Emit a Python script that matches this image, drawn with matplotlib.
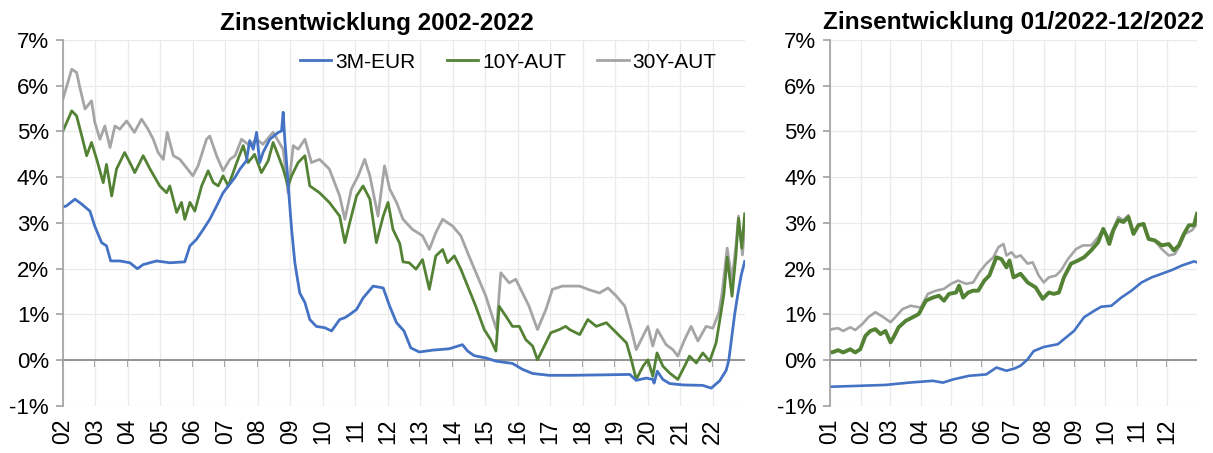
import matplotlib
matplotlib.use('Agg')
import matplotlib.pyplot as plt
import matplotlib.dates as mdates
import pandas as pd

plt.rcParams['font.family'] = ['Liberation Sans', 'DejaVu Sans']

# ---- 2002-2022, Zeit als Dezimaljahr ----
t_3m = [2002.0, 2002.1, 2002.37, 2002.58, 2002.83, 2002.98, 2003.19, 2003.34, 2003.47, 2003.75,
        2004.06, 2004.29, 2004.47, 2004.88, 2005.29, 2005.75, 2005.91, 2006.11, 2006.32, 2006.52,
        2006.73, 2006.93, 2007.29, 2007.45, 2007.65, 2007.75, 2007.86, 2007.96, 2008.06, 2008.16,
        2008.37, 2008.63, 2008.73, 2008.78, 2008.83, 2008.9, 2008.96, 2009.04, 2009.14, 2009.29,
        2009.45, 2009.6, 2009.8, 2010.06, 2010.27, 2010.52, 2010.68, 2010.83, 2011.04, 2011.24,
        2011.55, 2011.86, 2012.06, 2012.27, 2012.5, 2012.71, 2012.97, 2013.38, 2013.89, 2014.3,
        2014.46, 2014.66, 2015.02, 2015.33, 2015.84, 2016.15, 2016.46, 2016.97, 2017.6, 2018.63,
        2019.45, 2019.65, 2019.96, 2020.16, 2020.2, 2020.3, 2020.47, 2020.68, 2021.09, 2021.7,
        2021.96, 2022.22, 2022.42, 2022.5, 2022.6, 2022.68, 2022.78, 2022.88, 2022.99]
r_3m = [3.35, 3.37, 3.52, 3.41, 3.26, 2.93, 2.57, 2.5, 2.17, 2.17,
        2.13, 2.0, 2.09, 2.17, 2.13, 2.15, 2.5, 2.64, 2.86, 3.08,
        3.37, 3.66, 3.99, 4.18, 4.36, 4.8, 4.61, 4.98, 4.32, 4.54,
        4.83, 4.98, 5.01, 5.42, 4.83, 4.18, 3.59, 2.86, 2.13, 1.47,
        1.26, 0.89, 0.74, 0.71, 0.64, 0.89, 0.93, 1.0, 1.11, 1.36,
        1.62, 1.58, 1.18, 0.82, 0.64, 0.27, 0.18, 0.22, 0.25, 0.34,
        0.2, 0.1, 0.05, -0.02, -0.07, -0.2, -0.29, -0.33, -0.33, -0.32,
        -0.31, -0.44, -0.39, -0.42, -0.5, -0.24, -0.42, -0.51, -0.54, -0.55,
        -0.61, -0.45, -0.22, 0.0, 0.55, 1.0, 1.45, 1.85, 2.16]

t_10y = [2002.0, 2002.27, 2002.42, 2002.58, 2002.73, 2002.88, 2003.04, 2003.24, 2003.34, 2003.5,
         2003.65, 2003.9, 2004.11, 2004.21, 2004.47, 2004.68, 2004.98, 2005.19, 2005.29, 2005.5,
         2005.65, 2005.75, 2005.91, 2006.06, 2006.27, 2006.47, 2006.63, 2006.78, 2006.93, 2007.09,
         2007.24, 2007.35, 2007.55, 2007.7, 2007.9, 2008.11, 2008.32, 2008.47, 2008.63, 2008.78,
         2008.93, 2009.04, 2009.24, 2009.45, 2009.6, 2009.9, 2010.2, 2010.52, 2010.68, 2010.83,
         2011.04, 2011.24, 2011.45, 2011.65, 2011.86, 2012.01, 2012.16, 2012.37, 2012.47, 2012.66,
         2012.87, 2013.07, 2013.28, 2013.48, 2013.69, 2013.84, 2014.05, 2014.25, 2014.5, 2014.71,
         2014.97, 2015.17, 2015.33, 2015.43, 2015.64, 2015.84, 2016.05, 2016.25, 2016.46, 2016.61,
         2016.82, 2017.02, 2017.28, 2017.48, 2017.6, 2017.91, 2018.16, 2018.42, 2018.73, 2019.04,
         2019.35, 2019.5, 2019.65, 2019.86, 2020.01, 2020.16, 2020.29, 2020.47, 2020.68, 2020.93,
         2021.14, 2021.29, 2021.5, 2021.7, 2021.91, 2022.11, 2022.25, 2022.35, 2022.45, 2022.6,
         2022.72, 2022.8, 2022.9, 2022.99]
r_10y = [5.01, 5.45, 5.34, 4.9, 4.47, 4.76, 4.39, 3.88, 4.28, 3.59,
         4.18, 4.54, 4.25, 4.1, 4.47, 4.18, 3.81, 3.66, 3.81, 3.23,
         3.45, 3.08, 3.45, 3.26, 3.81, 4.14, 3.88, 3.81, 4.03, 3.81,
         4.1, 4.32, 4.69, 4.32, 4.5, 4.1, 4.36, 4.76, 4.47, 4.18,
         3.81, 4.03, 4.32, 4.47, 3.81, 3.66, 3.45, 3.15, 2.57, 3.01,
         3.59, 3.81, 3.52, 2.57, 3.15, 3.45, 2.86, 2.55, 2.15, 2.13,
         1.99, 2.2, 1.55, 2.28, 2.42, 2.13, 2.28, 1.99, 1.55, 1.18,
         0.67, 0.45, 0.2, 1.18, 0.96, 0.74, 0.74, 0.45, 0.31, 0.01,
         0.31, 0.6, 0.67, 0.74, 0.67, 0.56, 0.89, 0.74, 0.82, 0.6,
         0.38, 0.01, -0.42, -0.13, 0.01, -0.35, 0.16, -0.13, -0.28, -0.42,
         -0.13, 0.09, -0.06, 0.16, -0.02, 0.38, 1.0, 1.45, 2.25, 1.4,
         2.3, 3.1, 2.45, 3.2]

t_30y = [2002.0, 2002.27, 2002.42, 2002.52, 2002.68, 2002.88, 2002.98, 2003.14, 2003.29, 2003.45,
         2003.6, 2003.75, 2003.96, 2004.2, 2004.42, 2004.62, 2004.78, 2004.93, 2005.09, 2005.21,
         2005.4, 2005.6, 2005.8, 2006.0, 2006.16, 2006.42, 2006.52, 2006.73, 2006.93, 2007.14,
         2007.3, 2007.5, 2007.75, 2007.96, 2008.16, 2008.47, 2008.78, 2008.93, 2009.09, 2009.24,
         2009.45, 2009.65, 2009.9, 2010.2, 2010.52, 2010.68, 2010.88, 2011.09, 2011.29, 2011.45,
         2011.7, 2011.9, 2012.06, 2012.27, 2012.47, 2012.76, 2013.07, 2013.28, 2013.48, 2013.69,
         2014.0, 2014.25, 2014.5, 2014.76, 2015.02, 2015.28, 2015.35, 2015.48, 2015.74, 2015.94,
         2016.15, 2016.35, 2016.61, 2016.87, 2017.07, 2017.38, 2017.6, 2017.91, 2018.16, 2018.52,
         2018.78, 2019.04, 2019.3, 2019.5, 2019.65, 2019.86, 2020.01, 2020.16, 2020.3, 2020.57,
         2020.78, 2020.93, 2021.14, 2021.34, 2021.55, 2021.8, 2022.01, 2022.2, 2022.3, 2022.45,
         2022.6, 2022.72, 2022.8, 2022.92, 2022.99]
r_30y = [5.71, 6.36, 6.29, 5.96, 5.49, 5.67, 5.2, 4.83, 5.12, 4.65,
         5.12, 5.05, 5.23, 4.98, 5.27, 5.05, 4.83, 4.54, 4.39, 4.98,
         4.47, 4.39, 4.21, 4.03, 4.25, 4.83, 4.9, 4.47, 4.14, 4.39,
         4.47, 4.83, 4.69, 4.83, 4.72, 4.98, 4.61, 3.66, 4.69, 4.61,
         4.83, 4.32, 4.39, 4.18, 3.59, 3.08, 3.74, 4.03, 4.39, 4.03,
         3.15, 4.25, 3.74, 3.45, 3.08, 2.86, 2.72, 2.42, 2.79, 3.08,
         2.93, 2.72, 2.28, 1.84, 1.4, 0.82, 0.67, 1.91, 1.69, 1.77,
         1.47, 1.18, 0.67, 1.11, 1.55, 1.62, 1.62, 1.62, 1.55, 1.47,
         1.58, 1.4, 1.18, 0.67, 0.23, 0.53, 0.74, 0.31, 0.67, 0.34,
         0.23, 0.09, 0.45, 0.74, 0.42, 0.74, 0.7, 1.05, 1.5, 2.45,
         1.75, 2.5, 3.15, 2.3, 2.95]

years = list(range(2002, 2023))

# ---- 2022, Tage seit 01.01.2022 ----
d_3m_22 = [0, 28, 55, 78, 102, 112, 122, 138, 155, 165, 175, 183, 189, 196, 202, 212, 226, 232,
           242, 252, 262, 269, 279, 289, 299, 309, 319, 329, 339, 349, 361, 364]
r_3m_22 = [-0.58, -0.56, -0.54, -0.49, -0.45, -0.49, -0.42, -0.34, -0.31, -0.16, -0.23, -0.18,
           -0.12, 0.02, 0.2, 0.29, 0.35, 0.46, 0.64, 0.94, 1.08, 1.17, 1.19, 1.37, 1.52, 1.7,
           1.81, 1.89, 1.97, 2.07, 2.16, 2.14]

d_10y_22 = [0, 2, 8, 13, 20, 25, 30, 35, 40, 45, 50, 55, 60, 63, 68, 75, 82, 88, 95, 102, 108,
            113, 118, 125, 128, 132, 137, 142, 147, 153, 158, 165, 170, 175, 178, 182, 189, 196,
            204, 211, 217, 222, 227, 232, 239, 246, 252, 259, 266, 271, 274, 277, 281, 286, 291,
            296, 301, 306, 311, 316, 322, 329, 336, 341, 346, 351, 356, 361, 364]
r_10y_22 = [0.18, 0.17, 0.22, 0.17, 0.24, 0.17, 0.24, 0.53, 0.64, 0.68, 0.57, 0.64, 0.39, 0.5,
            0.72, 0.86, 0.94, 1.01, 1.3, 1.37, 1.41, 1.3, 1.45, 1.48, 1.63, 1.37, 1.48, 1.52,
            1.52, 1.74, 1.85, 2.25, 2.21, 2.03, 2.18, 1.81, 1.89, 1.7, 1.59, 1.34, 1.48, 1.45,
            1.48, 1.81, 2.11, 2.18, 2.25, 2.4, 2.58, 2.87, 2.73, 2.54, 2.84, 3.06, 3.02, 3.13,
            2.76, 2.95, 2.98, 2.65, 2.62, 2.51, 2.54, 2.4, 2.51, 2.76, 2.95, 2.95, 3.2]

d_30y_22 = [0, 2, 8, 13, 20, 25, 32, 38, 45, 53, 60, 63, 72, 80, 90, 97, 105, 113, 120, 127,
            135, 142, 148, 155, 162, 167, 172, 175, 180, 184, 189, 196, 201, 207, 212, 217, 224,
            229, 236, 244, 251, 259, 266, 271, 276, 281, 286, 291, 296, 301, 306, 311, 316, 322,
            329, 336, 342, 347, 352, 359, 364]
r_30y_22 = [0.66, 0.68, 0.7, 0.64, 0.72, 0.66, 0.79, 0.94, 1.05, 0.94, 0.83, 0.9, 1.12, 1.19,
            1.15, 1.45, 1.52, 1.56, 1.67, 1.74, 1.67, 1.7, 1.92, 2.11, 2.25, 2.47, 2.54, 2.29,
            2.36, 2.25, 2.29, 2.11, 2.14, 1.85, 1.7, 1.81, 1.85, 1.96, 2.21, 2.43, 2.51, 2.51,
            2.69, 2.87, 2.65, 2.87, 3.13, 3.06, 3.17, 2.76, 2.98, 2.95, 2.65, 2.62, 2.43, 2.29,
            2.32, 2.51, 2.76, 2.84, 2.98]

c_blue = '#4472C4'
c_green = '#548235'
c_gray = '#A5A5A5'
c_axis = '#A0A0A0'
c_grid = '#EAEAEA'


def style_axis(ax, xticks):
    ax.set_ylim(-1, 7)
    ax.set_yticks(range(-1, 8))
    ax.set_yticklabels([f'{v}%' for v in range(-1, 8)])
    ax.grid(True, color=c_grid, linewidth=0.9)
    ax.set_axisbelow(True)
    for s in ['top', 'right', 'bottom']:
        ax.spines[s].set_visible(False)
    ax.spines['left'].set_color(c_axis)
    ax.spines['left'].set_linewidth(1.2)
    ax.tick_params(axis='y', length=5, width=1.2, color=c_axis, pad=5, labelsize=16)
    ax.tick_params(axis='x', length=0, pad=9, labelsize=16.5, labelrotation=90)
    ax.axhline(0, color='#8C8C8C', linewidth=1.3, zorder=1)
    # Teilstriche an der 0%-Linie
    sec = ax.secondary_xaxis(1 / 8)
    sec.set_xticks(xticks)
    sec.tick_params(axis='x', length=5, width=1.2, color='#8C8C8C',
                    labelbottom=False, labeltop=False)
    sec.spines['bottom'].set_visible(False)
    sec.spines['top'].set_visible(False)


fig = plt.figure(figsize=(12.13, 4.53), dpi=100)
ax1 = fig.add_axes([0.0519, 0.1038, 0.5623, 0.808])
ax2 = fig.add_axes([0.6843, 0.1038, 0.3025, 0.808])

# links
l30, = ax1.plot(t_30y, r_30y, color=c_gray, linewidth=2.0, label='30Y-AUT')
l10, = ax1.plot(t_10y, r_10y, color=c_green, linewidth=2.0, label='10Y-AUT')
l3, = ax1.plot(t_3m, r_3m, color=c_blue, linewidth=2.0, label='3M-EUR')
ax1.set_xlim(2002, 2023)
ax1.set_xticks(years)
ax1.set_xticklabels([f'{y % 100:02d}' for y in years])
style_axis(ax1, years)

fig.legend(handles=[l3, l10, l30], loc='center', bbox_to_anchor=(0.419, 0.863),
           ncol=3, frameon=False, fontsize=15, handlelength=1.5, handletextpad=0.2,
           columnspacing=1.5)

# rechts
start = pd.Timestamp('2022-01-01')
x30 = start + pd.to_timedelta(d_30y_22, unit='D')
x10 = start + pd.to_timedelta(d_10y_22, unit='D')
x3 = start + pd.to_timedelta(d_3m_22, unit='D')
ax2.plot(x30, r_30y_22, color=c_gray, linewidth=1.9)
ax2.plot(x10, r_10y_22, color=c_green, linewidth=2.8)
ax2.plot(x3, r_3m_22, color=c_blue, linewidth=1.9)
months = pd.date_range('2022-01-01', periods=12, freq='MS')
ax2.set_xlim(pd.Timestamp('2022-01-01'), pd.Timestamp('2022-12-31'))
ax2.set_xticks(months)
ax2.xaxis.set_major_formatter(mdates.DateFormatter('%m'))
style_axis(ax2, months)

fig.text(0.3104, 0.934, 'Zinsentwicklung 2002-2022', ha='center', va='baseline',
         fontsize=17.5, fontweight='bold')
fig.text(0.8355, 0.936, 'Zinsentwicklung 01/2022-12/2022', ha='center', va='baseline',
         fontsize=17.5, fontweight='bold')

fig.savefig('out.png', dpi=100)
